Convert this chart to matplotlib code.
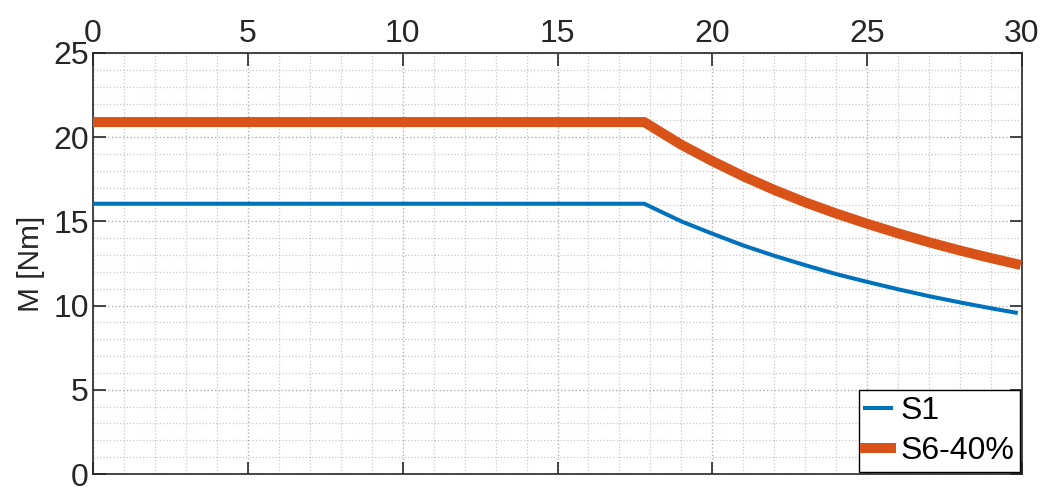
import numpy as np
import matplotlib.pyplot as plt
from matplotlib.ticker import MultipleLocator

# speed axis
x_pts = [0, 17.8, 19, 20, 21, 22, 23, 24, 25, 26, 27, 28, 29, 29.8]
s1 = [16.05, 16.05, 15.0, 14.27, 13.57, 12.96, 12.4, 11.87, 11.41, 10.97, 10.56, 10.19, 9.84, 9.58]
s6 = [20.9, 20.9, 19.55, 18.58, 17.68, 16.87, 16.13, 15.47, 14.86, 14.29, 13.76, 13.27, 12.82, 12.48]

series_names = ['S1', 'S6-40%']
xticks = [0, 5, 10, 15, 20, 25, 30]
yticks = [0, 5, 10, 15, 20, 25]

plt.rcParams['font.family'] = ['Liberation Sans', 'DejaVu Sans']

fig = plt.figure(figsize=(10.52, 4.88), dpi=100)
ax = fig.add_axes([93 / 1052, 14 / 488, 929 / 1052, 421 / 488])

ax.plot(x_pts, s1, color='#0072BD', lw=2.9, label=series_names[0], zorder=3)
ax.plot(x_pts, s6, color='#D95319', lw=7.2, label=series_names[1], zorder=3)

ax.set_xlim(0, 30)
ax.set_ylim(0, 25)
ax.set_xticks(xticks)
ax.set_yticks(yticks)
ax.xaxis.set_minor_locator(MultipleLocator(1))
ax.yaxis.set_minor_locator(MultipleLocator(1))

ax.xaxis.tick_top()
ax.tick_params(which='major', direction='in', length=9, width=1.2, color='#262626',
               labelsize=23, labelcolor='#262626', top=True, bottom=True, left=True, right=True,
               labelbottom=False, labeltop=True, pad=3)
ax.tick_params(which='minor', length=0)

ax.grid(which='major', color='#b0b0b0', ls=':', lw=1.0)
ax.grid(which='minor', color='#c8c8c8', ls=':', lw=0.9)
ax.set_axisbelow(True)

for sp in ax.spines.values():
    sp.set_color('#262626')
    sp.set_linewidth(1.2)

ax.set_ylabel('M [Nm]', fontsize=21.5, color='#262626', labelpad=6)

leg = ax.legend(loc='lower right', fontsize=23, handlelength=0.8, handletextpad=0.3,
                borderpad=0.2, labelspacing=0.3, fancybox=False, framealpha=1,
                edgecolor='black', borderaxespad=0.05)
leg.get_frame().set_linewidth(1.0)

fig.savefig('out.png', dpi=100)
